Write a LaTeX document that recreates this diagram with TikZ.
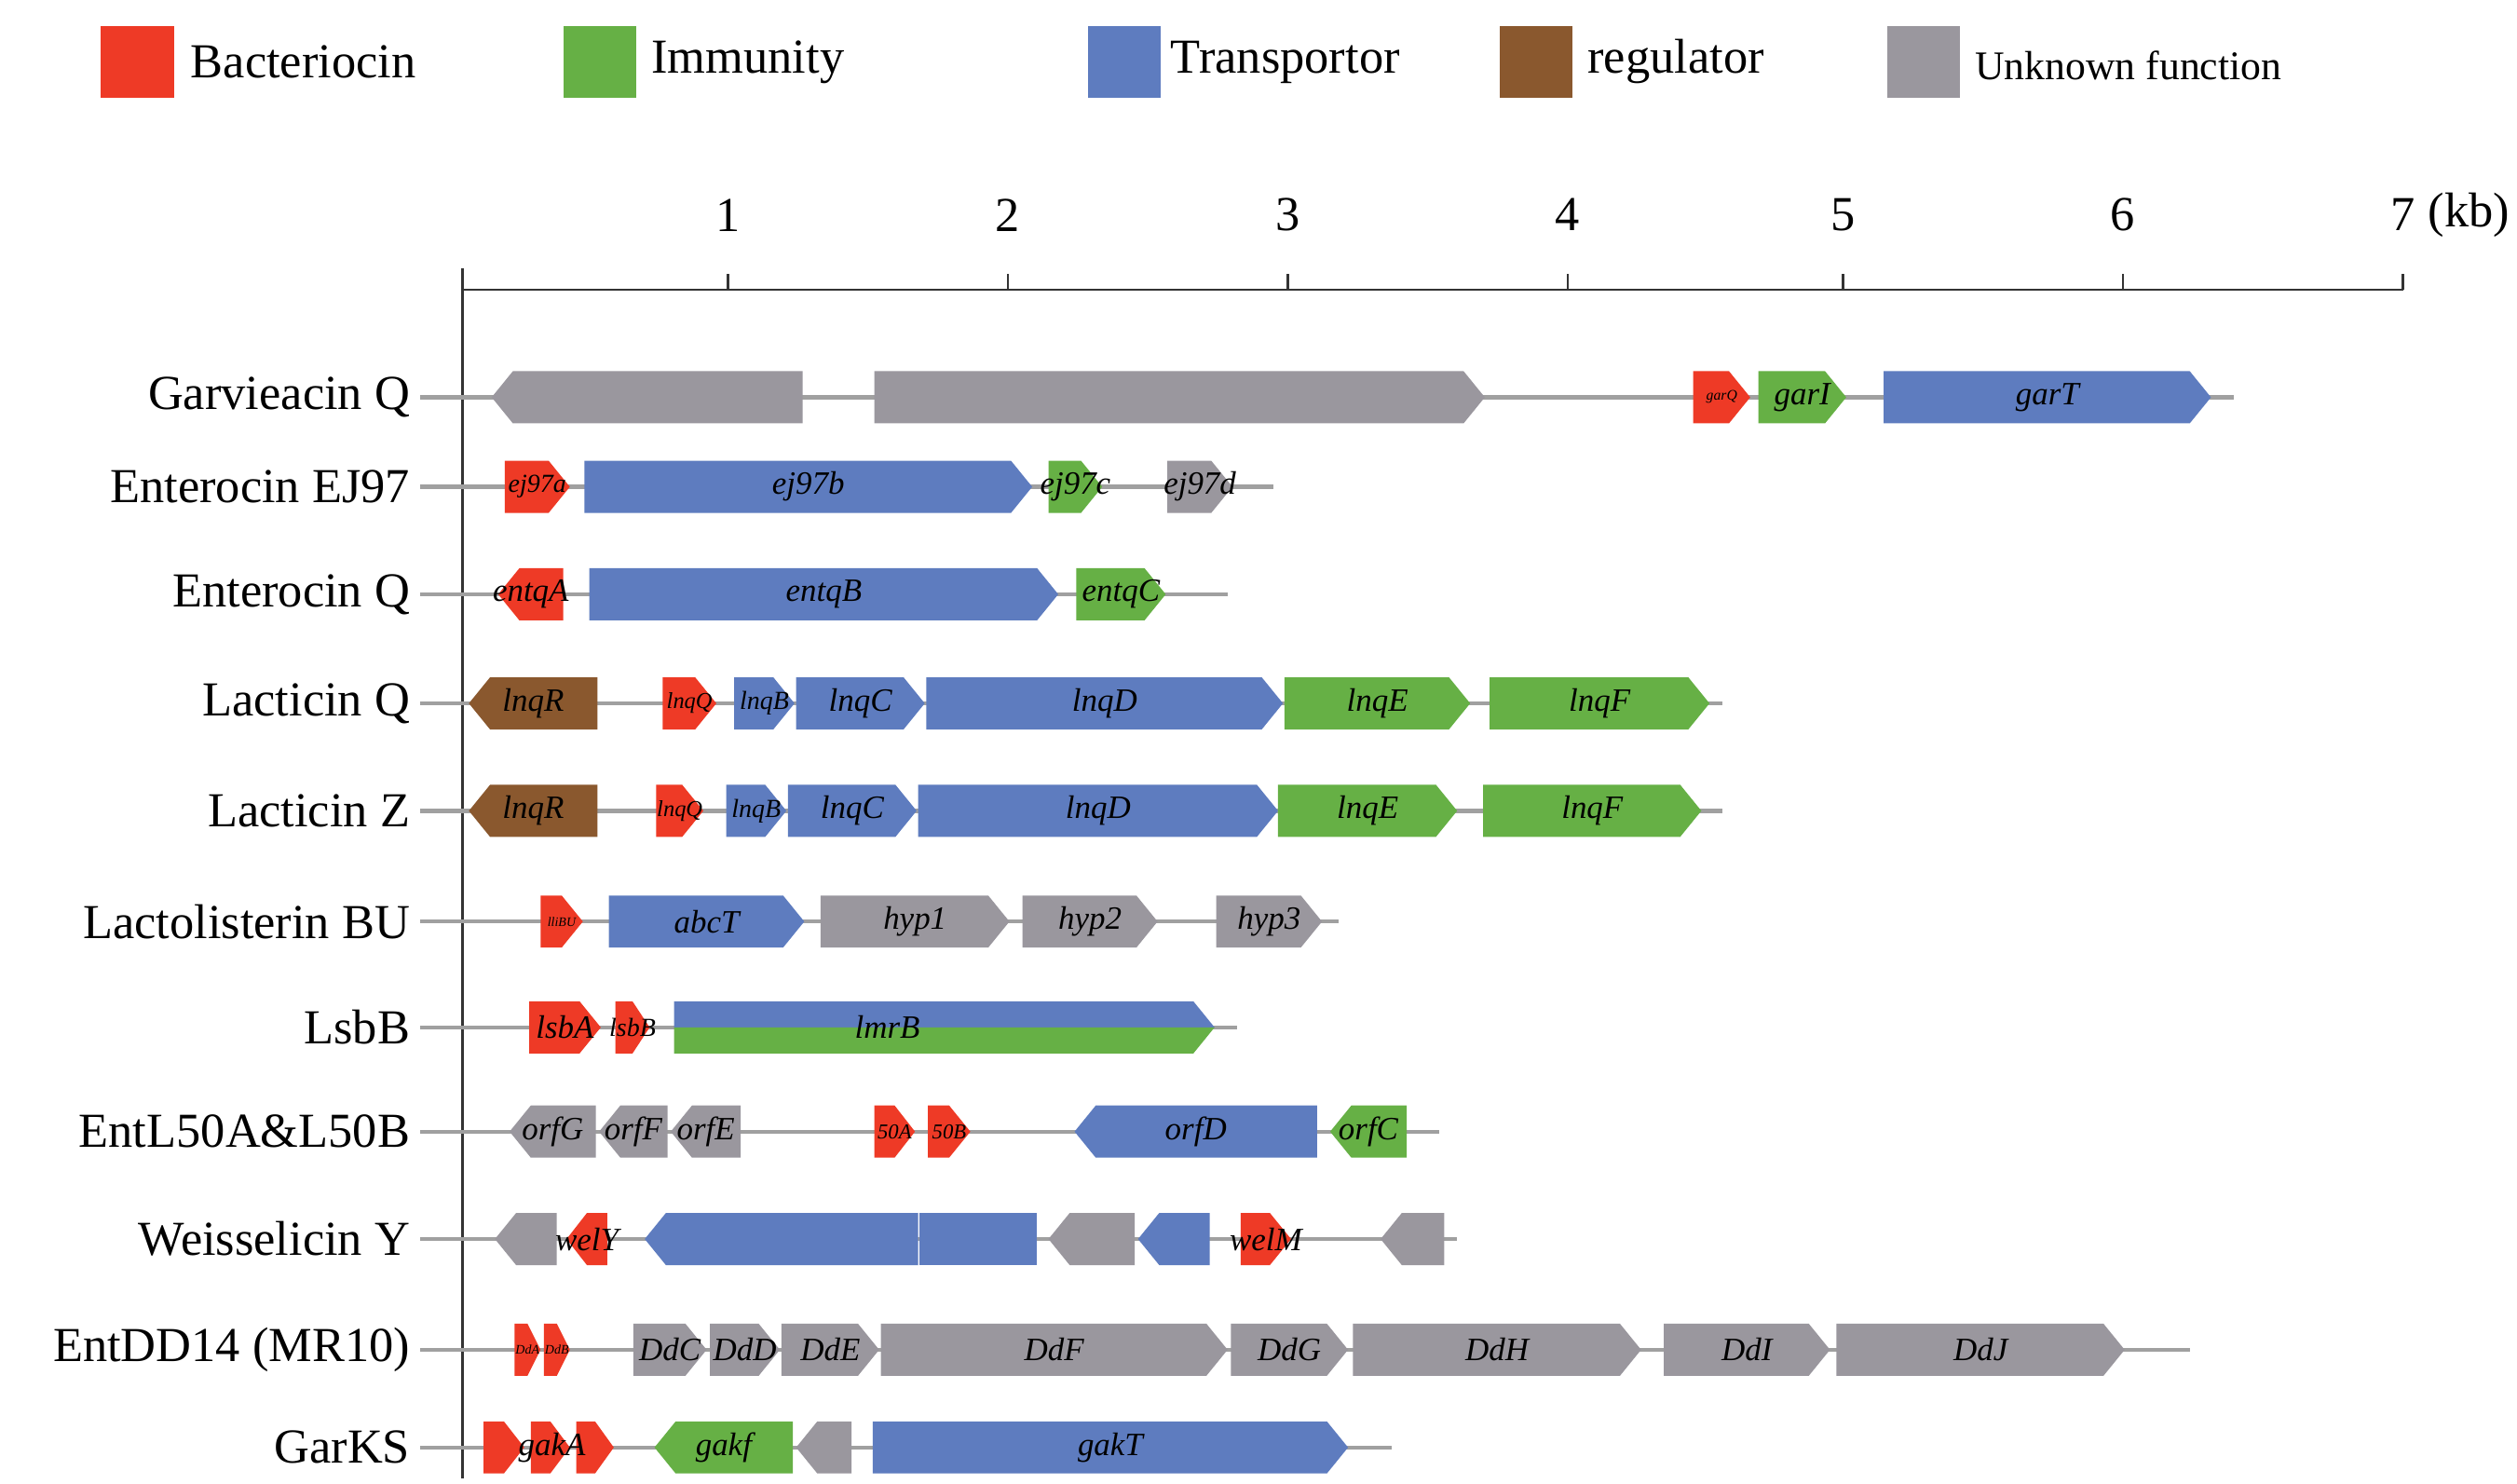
\documentclass[tikz,border=0pt]{standalone}
\usepackage{fontspec}
\setmainfont{Liberation Serif}
\definecolor{cR}{HTML}{EE3A26}
\definecolor{cG}{HTML}{66B045}
\definecolor{cB}{HTML}{5E7CBF}
\definecolor{cN}{HTML}{8A582E}
\definecolor{cY}{HTML}{9A979E}
\definecolor{cL}{HTML}{A0A0A0}
\newcommand\gn[6]{%
\pgfmathsetmacro\tp{min(13,(#2-#1)/2)}%
\ifx r#4\fill[#5] (#1,#3-16) -- ({#2-\tp},#3-16) -- (#2,#3) -- ({#2-\tp},#3+16) -- (#1,#3+16) -- cycle;%
\else\ifx l#4\fill[#5] ({#1+\tp},#3-16) -- (#2,#3-16) -- (#2,#3+16) -- ({#1+\tp},#3+16) -- (#1,#3) -- cycle;%
\else\fill[#5] (#1,#3-16) rectangle (#2,#3+16);\fi\fi
\node[gl] at ({(#1+#2)/2},#3) {#6};}
\newcommand\rw[3]{\draw[cL,line width=2.5] (258,#1) -- (#2,#1); \node[rl] at (252,#1) {#3};}
\newcommand\sm[2]{{\fontsize{#1}{#1}\selectfont #2}}
\begin{document}
\begin{tikzpicture}[x=1pt,y=-1pt,
 gl/.style={font=\fontsize{20}{20}\selectfont\itshape,inner sep=0},
 rl/.style={anchor=east,font=\fontsize{30}{30}\selectfont,inner sep=0},
 lg/.style={anchor=west,font=\fontsize{30}{30}\selectfont,inner sep=0}]
\useasboundingbox (0,0) rectangle (1546,911);
% legend
\fill[cR] (62,16) rectangle (107,60); \node[lg] at (117,38) {Bacteriocin};
\fill[cG] (346,16) rectangle (391,60); \node[lg] at (400,38) {Immunity};
\fill[cB] (668,16) rectangle (713,60); \node[lg] at (719,38) {Transportor};
\fill[cN] (921,16) rectangle (966,60); \node[lg] at (975,38) {regulator};
\fill[cY] (1159,16) rectangle (1204,60); \node[lg,font=\fontsize{25}{25}\selectfont\scshape] at (1213,40) {Unknown function};
% axis
\draw[line width=1.5,black!80] (284,178) -- (1476,178);
\draw[line width=1.5,black!80] (284,165) -- (284,908);
\foreach \x/\l in {447/1,619/2,791/3,963/4,1132/5,1304/6,1476/7}{
 \draw[line width=1.5,black!80] (\x,178) -- (\x,168);
 \node[font=\fontsize{30}{30}\selectfont] at (\x,132) {\l};}
\node[anchor=west,font=\fontsize{30}{30}\selectfont] at (1488,132) {(kb)};
% rows
\rw{244}{1372}{Garvieacin Q}
\gn{302}{493}{244}{l}{cY}{}
\gn{537}{912}{244}{r}{cY}{}
\gn{1040}{1075}{244}{r}{cR}{\sm{9}{garQ}}
\gn{1080}{1134}{244}{r}{cG}{garI}
\gn{1157}{1358}{244}{r}{cB}{garT}
\rw{299}{782}{Enterocin EJ97}
\gn{310}{350}{299}{r}{cR}{\sm{16}{ej97a}}
\gn{359}{634}{299}{r}{cB}{ej97b}
\gn{644}{677}{299}{r}{cG}{ej97c}
\gn{717}{757}{299}{r}{cY}{ej97d}
\rw{365}{754}{Enterocin Q}
\gn{306}{346}{365}{l}{cR}{entqA}
\gn{362}{650}{365}{r}{cB}{entqB}
\gn{661}{716}{365}{r}{cG}{entqC}
\rw{432}{1058}{Lacticin Q}
\gn{288}{367}{432}{l}{cN}{lnqR}
\gn{407}{440}{432}{r}{cR}{\sm{14}{lnqQ}}
\gn{451}{488}{432}{r}{cB}{\sm{16}{lnqB}}
\gn{489}{568}{432}{r}{cB}{lnqC}
\gn{569}{788}{432}{r}{cB}{lnqD}
\gn{789}{903}{432}{r}{cG}{lnqE}
\gn{915}{1050}{432}{r}{cG}{lnqF}
\rw{498}{1058}{Lacticin Z}
\gn{288}{367}{498}{l}{cN}{lnqR}
\gn{403}{432}{498}{r}{cR}{\sm{14}{lnqQ}}
\gn{446}{483}{498}{r}{cB}{\sm{16}{lnqB}}
\gn{484}{563}{498}{r}{cB}{lnqC}
\gn{564}{785}{498}{r}{cB}{lnqD}
\gn{785}{895}{498}{r}{cG}{lnqE}
\gn{911}{1045}{498}{r}{cG}{lnqF}
\rw{566}{822}{Lactolisterin BU}
\gn{332}{358}{566}{r}{cR}{\sm{8}{lliBU}}
\gn{374}{494}{566}{r}{cB}{abcT}
\gn{504}{620}{566}{r}{cY}{hyp1}
\gn{628}{711}{566}{r}{cY}{hyp2}
\gn{747}{812}{566}{r}{cY}{hyp3}
\rw{631}{760}{LsbB}
\gn{325}{369}{631}{r}{cR}{lsbA}
\gn{378}{399}{631}{r}{cR}{\sm{16}{lsbB}}
\fill[cB] (414,615) -- (733,615) -- (746,631) -- (414,631) -- cycle;
\fill[cG] (414,631) -- (746,631) -- (733,647) -- (414,647) -- cycle;
\node[gl] at (545,631) {lmrB};
\rw{695}{884}{EntL50A\&L50B}
\gn{313}{366}{695}{l}{cY}{orfG}
\gn{368}{410}{695}{l}{cY}{orfF}
\gn{412}{455}{695}{l}{cY}{orfE}
\gn{537}{562}{695}{r}{cR}{\sm{13}{50A}}
\gn{570}{596}{695}{r}{cR}{\sm{13}{50B}}
\gn{660}{809}{695}{l}{cB}{orfD}
\gn{817}{864}{695}{l}{cG}{orfC}
\rw{761}{895}{Weisselicin Y}
\gn{304}{342}{761}{l}{cY}{}
\gn{348}{373}{761}{l}{cR}{welY}
\gn{396}{564}{761}{l}{cB}{}
\gn{565}{637}{761}{n}{cB}{}
\gn{644}{697}{761}{l}{cY}{}
\gn{699}{743}{761}{l}{cB}{}
\gn{762}{793}{761}{r}{cR}{welM}
\gn{848}{887}{761}{l}{cY}{}
\rw{829}{1345}{EntDD14 (MR10)}
\gn{316}{332}{829}{r}{cR}{\sm{8}{DdA}}
\gn{334}{350}{829}{r}{cR}{\sm{8}{DdB}}
\gn{389}{434}{829}{r}{cY}{DdC}
\gn{436}{479}{829}{r}{cY}{DdD}
\gn{480}{540}{829}{r}{cY}{DdE}
\gn{541}{754}{829}{r}{cY}{DdF}
\gn{756}{828}{829}{r}{cY}{DdG}
\gn{831}{1008}{829}{r}{cY}{DdH}
\gn{1022}{1124}{829}{r}{cY}{DdI}
\gn{1128}{1305}{829}{r}{cY}{DdJ}
\rw{889}{855}{GarKS}
\gn{297}{322}{889}{r}{cR}{}
\gn{326}{350}{889}{r}{cR}{}
\gn{354}{377}{889}{r}{cR}{}
\node[gl] at (339,889) {gakA};
\gn{402}{487}{889}{l}{cG}{gakf}
\gn{489}{523}{889}{l}{cY}{}
\gn{536}{828}{889}{r}{cB}{gakT}
\end{tikzpicture}
\end{document}
